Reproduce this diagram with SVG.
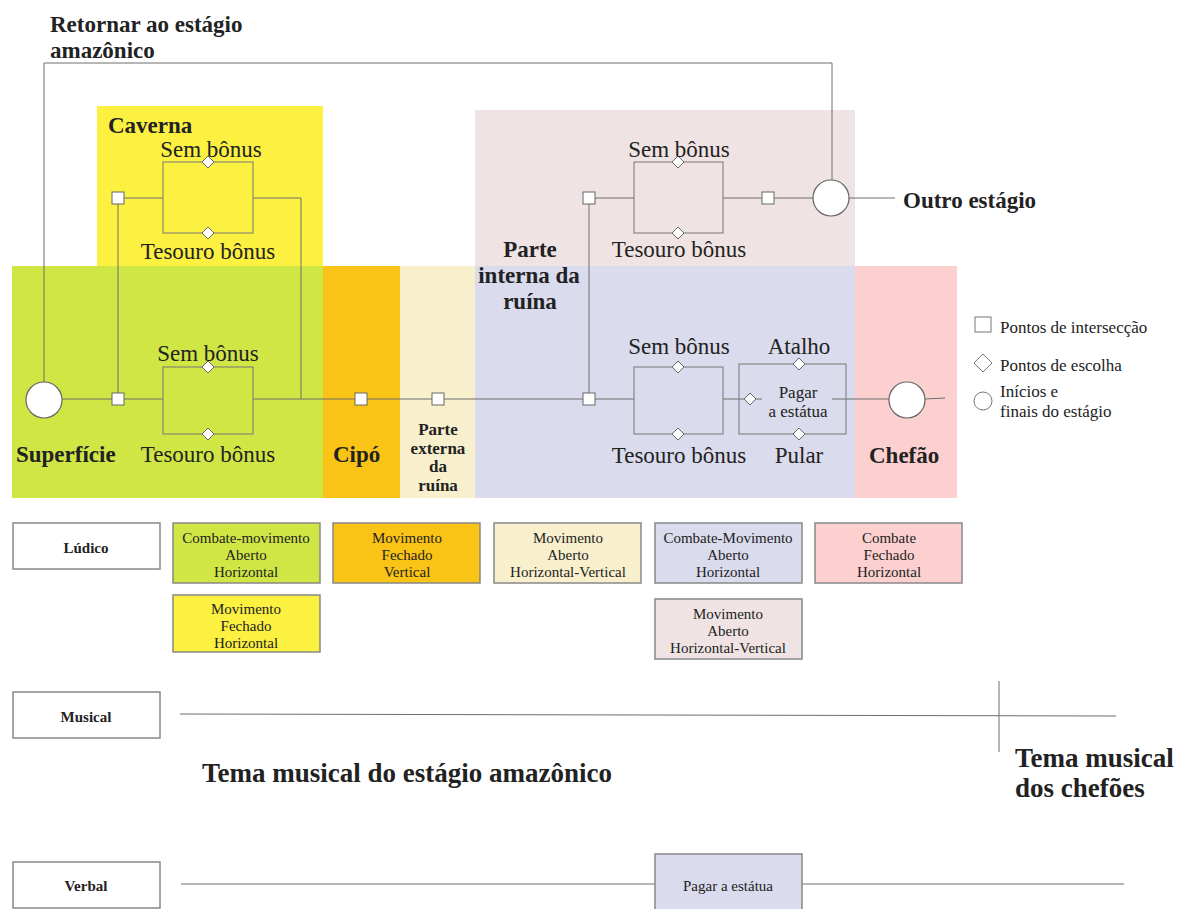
<svg xmlns="http://www.w3.org/2000/svg" width="1178" height="909" viewBox="0 0 1178 909">
<style>
text{font-family:"Liberation Serif","Times New Roman",serif;fill:#222}
.b{font-weight:bold}
.lbl{font-size:23px}
.h{font-size:23px;font-weight:bold}
.ln{stroke:#6e6e6e;stroke-width:1;fill:none}
.bx{fill:none;stroke:#777;stroke-width:1}
.sq{fill:#fff;stroke:#666;stroke-width:1}
.dm{fill:#fff;stroke:#666;stroke-width:1}
.ci{fill:#fff;stroke:#666;stroke-width:1.2}
.card{stroke:#888;stroke-width:1.5}
.ct{font-size:15px;text-anchor:middle}
.rt{font-size:15px;font-weight:bold;text-anchor:middle}
.mid{text-anchor:middle}
.lg{font-size:17px}
.big{font-size:27px;font-weight:bold}
</style>
<defs>
<rect id="sq" x="-6" y="-6" width="12" height="12" class="sq"/>
<path id="dm" d="M0,-6 L6,0 L0,6 L-6,0 Z" class="dm"/>
</defs>
<rect width="1178" height="909" fill="#fff"/>

<!-- zones -->
<g id="zones">
<rect x="97" y="106" width="226" height="160" fill="#fcf041"/>
<rect x="475" y="110" width="380" height="156" fill="#efe4e3"/>
<rect x="12" y="266" width="311" height="232" fill="#cfe645"/>
<rect x="323" y="266" width="77" height="232" fill="#f9c415"/>
<rect x="400" y="266" width="75" height="232" fill="#f8f0cd"/>
<rect x="475" y="266" width="380" height="232" fill="#dadbec"/>
<rect x="855" y="266" width="102" height="232" fill="#fdd0d0"/>
</g>

<!-- connectors -->
<g id="connectors">
<path class="ln" d="M44,382 V63 H832 V180"/>
<path class="ln" d="M62,399 H163 M253,399 H589 M589,399 H634"/>
<path class="ln" d="M118,399 V198 H163 M253,198 H301 V399"/>
<path class="ln" d="M589,399 V198 H634 M723,198 H813 M849,198 H895"/>
<path class="ln" d="M723,399 H762 M832,399 H889 M925,399 L945,398"/>
<rect class="bx" x="163" y="162" width="90" height="71"/>
<rect class="bx" x="163" y="367" width="90" height="67"/>
<rect class="bx" x="634" y="162" width="89" height="71"/>
<rect class="bx" x="634" y="367" width="89" height="67"/>
<rect class="bx" x="739" y="364" width="107" height="70"/>
</g>

<!-- nodes -->
<g id="start"><circle class="ci" cx="44" cy="400" r="18"/></g>
<g id="end-upper"><circle class="ci" cx="831" cy="198" r="18"/></g>
<g id="boss"><circle class="ci" cx="907" cy="400" r="18"/></g>
<g id="squares">
<use href="#sq" x="118" y="399"/>
<use href="#sq" x="118" y="198"/>
<use href="#sq" x="361" y="399"/>
<use href="#sq" x="438" y="399"/>
<use href="#sq" x="589" y="399"/>
<use href="#sq" x="589" y="198"/>
<use href="#sq" x="768" y="198"/>
</g>
<g id="diamonds">
<use href="#dm" x="208" y="162"/>
<use href="#dm" x="208" y="233"/>
<use href="#dm" x="208" y="367"/>
<use href="#dm" x="208" y="434"/>
<use href="#dm" x="678" y="162"/>
<use href="#dm" x="678" y="233"/>
<use href="#dm" x="678" y="367"/>
<use href="#dm" x="678" y="434"/>
<use href="#dm" x="750" y="399"/>
<use href="#dm" x="799" y="364"/>
<use href="#dm" x="799" y="434"/>
</g>

<!-- labels -->
<g id="labels">
<text class="h" x="50" y="32">Retornar ao estágio</text>
<text class="h" x="50" y="58">amazônico</text>
<text class="h" x="108" y="133">Caverna</text>
<text class="lbl mid" x="211" y="157">Sem bônus</text>
<text class="lbl mid" x="208" y="259">Tesouro bônus</text>
<text class="lbl mid" x="208" y="361">Sem bônus</text>
<text class="lbl mid" x="208" y="462">Tesouro bônus</text>
<text class="h" x="16" y="462">Superfície</text>
<text class="h" x="333" y="462">Cipó</text>
<text class="b mid" font-size="17" x="438" y="435">Parte</text>
<text class="b mid" font-size="17" x="438" y="454">externa</text>
<text class="b mid" font-size="17" x="438" y="472">da</text>
<text class="b mid" font-size="17" x="438" y="491">ruína</text>
<text class="h mid" x="530" y="257">Parte</text>
<text class="h mid" x="529" y="283">interna da</text>
<text class="h mid" x="530" y="309">ruína</text>
<text class="lbl mid" x="679" y="157">Sem bônus</text>
<text class="lbl mid" x="679" y="257">Tesouro bônus</text>
<text class="lbl mid" x="679" y="354">Sem bônus</text>
<text class="lbl mid" x="679" y="463">Tesouro bônus</text>
<text class="lbl mid" x="799" y="354">Atalho</text>
<text class="lbl mid" x="799" y="463">Pular</text>
<text class="mid lg" x="798" y="398">Pagar</text>
<text class="mid lg" x="798" y="417">a estátua</text>
<text class="h" x="903" y="208">Outro estágio</text>
<text class="h" x="869" y="463">Chefão</text>
</g>

<!-- legend -->
<g id="legend">
<rect x="975" y="317" width="16" height="15" fill="#fff" stroke="#777"/>
<text class="lg" x="1000" y="333">Pontos de intersecção</text>
<path d="M983,354 L992,363 L983,372 L974,363 Z" fill="#fff" stroke="#777"/>
<text class="lg" x="1000" y="371">Pontos de escolha</text>
<circle cx="983" cy="401" r="9" fill="#fff" stroke="#777"/>
<text class="lg" x="1000" y="397">Inícios e</text>
<text class="lg" x="1000" y="417">finais do estágio</text>
</g>

<!-- Ludico row -->
<g id="ludico">
<rect class="card" x="13" y="523" width="147" height="46" fill="#fff"/>
<text class="rt" x="86" y="553">Lúdico</text>
</g>
<g id="l-superficie">
<rect class="card" x="173" y="523" width="147" height="60" fill="#cfe645"/>
<text class="ct" x="246" y="543">Combate-movimento</text>
<text class="ct" x="246" y="560">Aberto</text>
<text class="ct" x="246" y="577">Horizontal</text>
</g>
<g id="l-caverna">
<rect class="card" x="173" y="595" width="147" height="57" fill="#fcf041"/>
<text class="ct" x="246" y="614">Movimento</text>
<text class="ct" x="246" y="631">Fechado</text>
<text class="ct" x="246" y="648">Horizontal</text>
</g>
<g id="l-cipo">
<rect class="card" x="333" y="523" width="147" height="60" fill="#f9c415"/>
<text class="ct" x="407" y="543">Movimento</text>
<text class="ct" x="407" y="560">Fechado</text>
<text class="ct" x="407" y="577">Vertical</text>
</g>
<g id="l-externa">
<rect class="card" x="494" y="523" width="147" height="60" fill="#f8f0cd"/>
<text class="ct" x="568" y="543">Movimento</text>
<text class="ct" x="568" y="560">Aberto</text>
<text class="ct" x="568" y="577">Horizontal-Vertical</text>
</g>
<g id="l-interna">
<rect class="card" x="655" y="523" width="147" height="60" fill="#dadbec"/>
<text class="ct" x="728" y="543">Combate-Movimento</text>
<text class="ct" x="728" y="560">Aberto</text>
<text class="ct" x="728" y="577">Horizontal</text>
</g>
<g id="l-chefao">
<rect class="card" x="815" y="523" width="147" height="60" fill="#fdd0d0"/>
<text class="ct" x="889" y="543">Combate</text>
<text class="ct" x="889" y="560">Fechado</text>
<text class="ct" x="889" y="577">Horizontal</text>
</g>
<g id="l-superior">
<rect class="card" x="655" y="599" width="147" height="60" fill="#efe4e3"/>
<text class="ct" x="728" y="619">Movimento</text>
<text class="ct" x="728" y="636">Aberto</text>
<text class="ct" x="728" y="653">Horizontal-Vertical</text>
</g>

<!-- Musical row -->
<g id="musical">
<rect class="card" x="13" y="692" width="147" height="46" fill="#fff"/>
<text class="rt" x="86" y="722">Musical</text>
<path class="ln" d="M180,714 L1116,716 M999,681 V752" stroke="#888"/>
<text class="big" x="202" y="782">Tema musical do estágio amazônico</text>
<text class="big" x="1015" y="767">Tema musical</text>
<text class="big" x="1015" y="797">dos chefões</text>
</g>

<!-- Verbal row -->
<g id="verbal">
<rect class="card" x="13" y="862" width="147" height="46" fill="#fff"/>
<text class="rt" x="86" y="891">Verbal</text>
<path class="ln" d="M181,884 H655 M802,884 H1124" stroke="#888"/>
<rect class="card" x="655" y="854" width="147" height="58" fill="#dadbec"/>
<text class="mid" font-size="15" x="728" y="891">Pagar a estátua</text>
</g>
</svg>
